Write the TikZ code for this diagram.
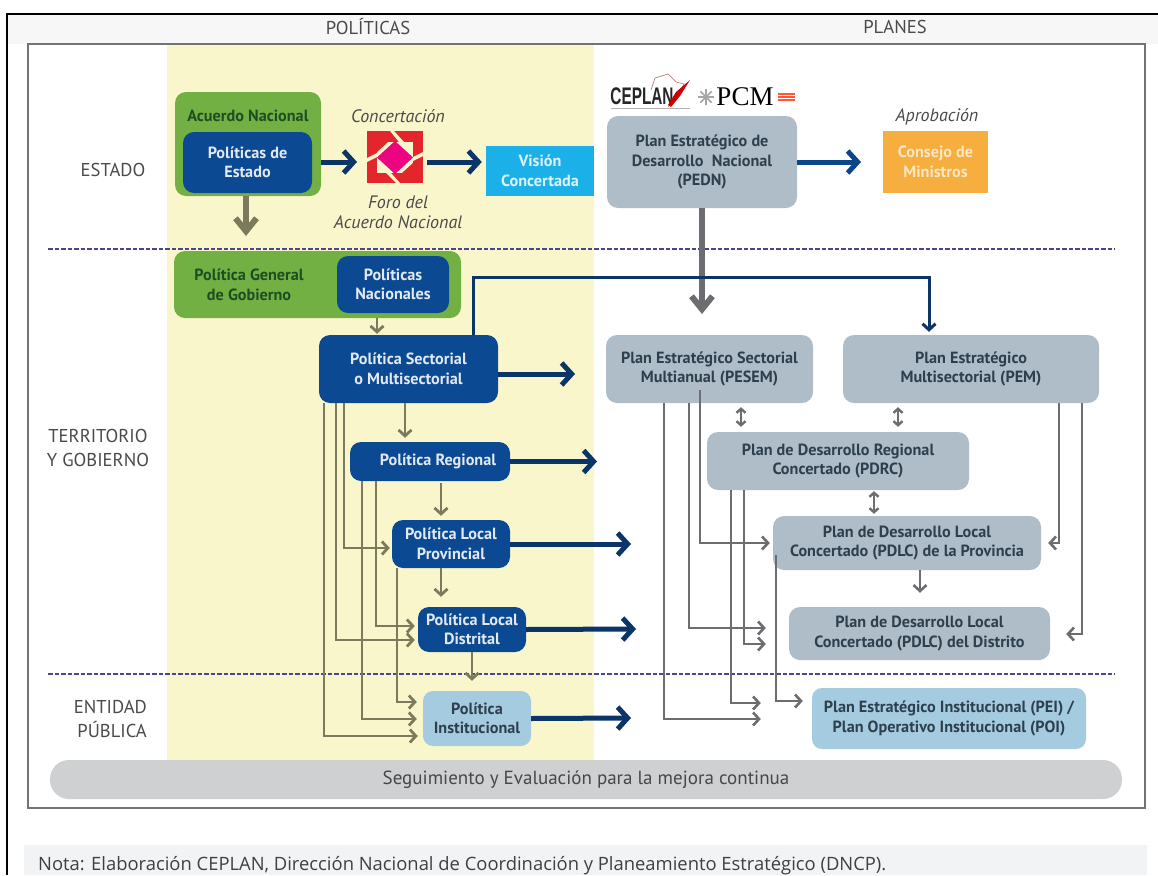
\documentclass[tikz,border=0pt]{standalone}
\usepackage{fontspec}
\setmainfont{PT Sans}
\newfontfamily\notefont{Open Sans}
\newfontfamily\serifl{Liberation Serif}
\newfontfamily\logofont{Liberation Sans}
\usetikzlibrary{arrows.meta}
\definecolor{cgreen}{HTML}{72B043}
\definecolor{cdkgreen}{HTML}{1E4D22}
\definecolor{cnavy}{HTML}{0B4A92}
\definecolor{carrow}{HTML}{0B3468}
\definecolor{cgraybox}{HTML}{AEBDC8}
\definecolor{cltblue}{HTML}{A5CBE0}
\definecolor{colive}{HTML}{7C7A5C}
\definecolor{cgrayline}{HTML}{6C6D70}
\definecolor{cyellow}{HTML}{FAF6CC}
\definecolor{ccyan}{HTML}{1CB0E8}
\definecolor{corange}{HTML}{F6AE3F}
\definecolor{cbar}{HTML}{CFD0D2}
\definecolor{cnote}{HTML}{F2F3F5}
\definecolor{ctext}{HTML}{2E3F4E}
\definecolor{chead}{HTML}{4A4A4A}
\definecolor{cdash}{HTML}{4A4590}
\definecolor{cforo}{HTML}{E3262B}
\tikzset{
  x=1pt,y=-1pt,
  base/.style={align=center,inner sep=0pt,font=\fontsize{16.2}{19.5}\selectfont\bfseries},
  greenbox/.style={base,fill=cgreen,rounded corners=11pt,text=cdkgreen},
  navybox/.style={base,fill=cnavy,rounded corners=11pt,text=white!88!cnavy},
  graybox/.style={base,fill=cgraybox,rounded corners=11pt,text=ctext},
  ltbox/.style={base,fill=cltblue,rounded corners=10pt,text=ctext},
  cyanbox/.style={base,fill=ccyan,text=white!85!ccyan},
  orangebox/.style={base,fill=corange,text=white!70!corange},
  barbox/.style={fill=cbar,rounded corners=19pt,inner sep=0pt,text=black!72,font=\fontsize{19}{22}\selectfont},
  head/.style={inner sep=0pt,text=chead,align=center,font=\fontsize{18.6}{23.5}\selectfont},
  ital/.style={inner sep=0pt,text=chead,align=center,font=\fontsize{18}{20}\selectfont\itshape},
  tagtext/.style={base},
  bigblue/.style={line width=5pt,draw=carrow,-{Straight Barb[length=10pt,width=22pt]}},
  bigblueb/.style={line width=5pt,draw=cnavy!80!carrow,-{Straight Barb[length=10pt,width=22pt]}},
  biggray/.style={line width=6pt,draw=#1,-{Straight Barb[length=13pt,width=21pt]}},
  thinblue/.style={line width=3pt,draw=carrow,-{Straight Barb[length=6pt,width=13pt]}},
  oliveln/.style={line width=2.8pt,draw=colive,-{Straight Barb[length=6pt,width=13pt]}},
  grayln/.style={line width=2.6pt,draw=cgrayline,-{Straight Barb[length=6pt,width=13pt]}},
  grayboth/.style={line width=2.4pt,draw=cgrayline,{Straight Barb[length=4pt,width=9pt]}-{Straight Barb[length=4pt,width=9pt]}},
  divider/.style={line width=1.4pt,draw=cdash,dash pattern=on 4.5pt off 2pt},
}
\newcommand{\bx}[7]{%
  \pgfmathsetmacro{\bxcx}{(#3+#5)/2}\pgfmathsetmacro{\bxcy}{(#4+#6)/2}%
  \pgfmathsetmacro{\bxw}{#5-#3}\pgfmathsetmacro{\bxh}{#6-#4}%
  \node[#2,minimum width=\bxw pt,minimum height=\bxh pt] (#1) at (\bxcx,\bxcy) {#7};}
\begin{document}
\begin{tikzpicture}
\useasboundingbox (0,0) rectangle (1158,875);
\fill[white] (0,0) rectangle (1158,875);
% outer frame
\fill[black!3] (8,15) rectangle (1158,44);
\draw[line width=2.4pt,black] (7,875) -- (7,14) -- (1158,14);
% note bar
\fill[cnote] (24,845) rectangle (1147,875);
% inner frame and yellow column
\fill[cyellow] (167,45) rectangle (594,760);
\draw[line width=1.4pt,black!55] (28,44) rectangle (1145,808);
% headers
\node[head] (hpol) at (368,27) {POLÍTICAS};
\node[head] (hpla) at (895,27) {PLANES};
\node[head] (hest) at (113,170) {ESTADO};
\node[head,align=center] (hter) at (98,448) {TERRITORIO\\Y GOBIERNO};
\node[head,align=right,anchor=east] (hent) at (147,719) {ENTIDAD\\PÚBLICA};
% dividers
\coordinate (d1a) at (48,249); \coordinate (d1b) at (1115,249);
\coordinate (d2a) at (48,674); \coordinate (d2b) at (1115,674);
\draw[divider] (d1a) -- (d1b);
\draw[divider] (d2a) -- (d2b);
% boxes
\bx{an}{greenbox}{175}{92}{321}{196}{}
\node[tagtext,text=cdkgreen] (antxt) at (248,116) {Acuerdo Nacional};
\bx{pe}{navybox}{183}{132}{312}{193}{Políticas de\\Estado}
\bx{vc}{cyanbox}{486}{146}{594}{196}{Visión\\Concertada}
\bx{pgg}{greenbox}{174}{251}{461}{318}{}
\node[tagtext,text=cdkgreen] (pggtxt) at (249,285) {Política General\\de Gobierno};
\bx{pn}{navybox}{337}{256}{449}{313}{Políticas\\Nacionales}
\bx{ps}{navybox}{319}{335}{498}{403}{Política Sectorial\\o Multisectorial}
\bx{pr}{navybox}{350}{442}{510}{481}{\hspace*{16pt}Política Regional}
\bx{plp}{navybox}{392}{520}{510}{568}{Política Local\\Provincial}
\bx{pld}{navybox}{418}{607}{526}{652}{Política Local\\Distrital}
\bx{pi}{ltbox}{423}{691}{531}{746}{Política\\Institucional}
\bx{pedn}{graybox}{607}{116}{797}{208}{Plan Estratégico de\\Desarrollo\ \ Nacional\\(PEDN)}
\bx{cm}{orangebox}{883}{131}{988}{193}{Consejo de\\Ministros}
\bx{pesem}{graybox}{606}{335}{813}{403}{Plan Estratégico Sectorial\\Multianual (PESEM)}
\bx{pem}{graybox}{843}{335}{1099}{403}{Plan Estratégico\\Multisectorial (PEM)}
\bx{pdrc}{graybox}{707}{432}{969}{490}{Plan de Desarrollo Regional\\Concertado (PDRC)}
\bx{pdlcp}{graybox}{773}{516}{1041}{570}{Plan de Desarrollo Local\\Concertado (PDLC) de la Provincia}
\bx{pdlcd}{graybox}{789}{607}{1050}{660}{Plan de Desarrollo Local\\Concertado (PDLC) del Distrito}
\bx{pei}{ltbox}{812}{688}{1086}{749}{Plan Estratégico Institucional (PEI) /\\Plan Operativo Institucional (POI)}
\bx{seg}{barbox}{50}{760}{1122}{799}{Seguimiento y Evaluación para la mejora continua}
% italic labels
\node[ital] (conc) at (398,116) {Concertación};
\node[ital] (foro) at (398,212) {Foro del\\Acuerdo Nacional};
\node[ital] (apro) at (937,117) {Aprobación};
% forum logo
\fill[cforo] (367,131) rectangle (423,183);
\fill[cyellow] (377,142) rectangle (413,173);
\fill[cforo] (377,142) -- (388,142) -- (377,152) -- cycle;
\fill[cforo] (413,173) -- (402,173) -- (413,163) -- cycle;
\fill[cyellow] (390,131) -- (394,131) -- (404,142) -- (399,142) -- cycle;
\fill[cyellow] (423,152) -- (423,156) -- (413,161) -- (413,157) -- cycle;
\fill[cyellow] (400,183) -- (396,183) -- (386,173) -- (391,173) -- cycle;
\fill[cyellow] (367,162) -- (367,158) -- (377,153) -- (377,157) -- cycle;
\fill[magenta!90!red] (377,157.5) -- (395,141) -- (413,157.5) -- (395,174) -- cycle;
\coordinate (foroL) at (367,162); \coordinate (foroR) at (423,162);
% logos
\draw[line width=.7pt,red!45!black!50] (651,90) -- (655,78) -- (668,74) -- (676,82) -- (684,84) -- (678,96) -- (668,107);
\node[xscale=.64,inner sep=0pt,font=\fontsize{24}{24}\selectfont\logofont\bfseries,text=black!85] (cep) at (642,96) {CEPLAN};
\fill[red!80!black] (668,105) -- (676,92) -- (690,80) -- (680,96) -- (671,107) -- cycle;
\draw[line width=.7pt,black!30] (611,108) -- (690,108);
\foreach \a in {0,45,...,135}{\draw[line width=1.6pt,black!35,rotate around={\a:(706,97)}] (698,97) -- (714,97);}
\node[inner sep=0pt,font=\fontsize{27}{27}\selectfont\serifl,text=black] (pcm) at (745,97) {PCM};
\foreach \yy in {94,97,100}{\draw[line width=1.6pt,red!65!orange!80] (778,\yy) -- (795,\yy);}
% big arrows
\draw[biggray=colive] (an.south -| 246,0) -- (246,236);
\draw[bigblue] (an.east |- foroL) -- ([xshift=-10pt]foroL);
\draw[bigblue] ([xshift=4pt]foroR) -- ([xshift=-4pt]vc.west |- foroR);
\draw[bigblueb] (pedn.east |- foroL) -- (861,162);
\draw[biggray=cgrayline] (pedn.south -| 702,0) -- (702,314);
\draw[oliveln] (pgg.south -| 377,0) -- ([yshift=1pt]ps.north -| 377,0);
\draw[thinblue] (ps.north -| 473,0) |- (700,277) -| ([yshift=3pt]pem.north -| 929,0);
\draw[bigblue] (ps.east |- 0,374) -- (575,374);
\draw[bigblue] (pr.east) -- (597,461.5);
\draw[bigblue] (plp.east) -- (631,544);
\draw[bigblue] (pld.east) -- (636,629);
\draw[bigblue] (pi.east) -- (631,718);
% olive connectors
\draw[oliveln,shorten >=4pt] (ps.south -| 405,0) -- (pr.north -| 405,0);
\draw[oliveln,shorten >=4pt] ([yshift=-2pt]pr.south -| 441,0) -- (plp.north -| 441,0);
\draw[oliveln,shorten >=10pt] (plp.south -| 441,0) -- (pld.north -| 441,0);
\draw[oliveln,shorten >=10pt] (pld.south -| 472,0) -- (pi.north -| 472,0);
\draw[oliveln,shorten >=5pt] (ps.south -| 324,0) |- (pi.west |- 0,736);
\draw[oliveln,shorten >=3pt] (ps.south -| 336,0) |- (pld.west |- 0,640);
\draw[oliveln,shorten >=2pt] (ps.south -| 344,0) |- (plp.west |- 0,548);
\draw[oliveln,shorten >=6pt] (pr.south -| 362,0) |- (pi.west |- 0,719);
\draw[oliveln,shorten >=3pt] (pr.south -| 376,0) |- (pld.west |- 0,626);
\draw[oliveln,shorten >=6pt] (plp.south -| 397,0) |- (pi.west |- 0,702);
% gray connectors
\draw[grayln,shorten >=51pt] (pesem.south -| 664,0) |- (pei.west |- 0,719);
\draw[grayln,shorten >=23pt] (pesem.south -| 689,0) |- (pdlcd.west |- 0,628);
\draw[grayln,shorten >=3pt] (700,390) |- (pdlcp.west |- 0,543);
\draw[grayln,shorten >=51pt] (pdrc.south -| 731,0) |- (pei.west |- 0,703);
\draw[grayln,shorten >=23pt] (pdrc.south -| 744,0) |- (pdlcd.west |- 0,644);
\draw[grayln,shorten >=9pt] (776,555) |- (pei.west |- 0,701);
\draw[grayln,shorten >=7pt] (pem.south -| 1059,0) |- (pdlcp.east |- 0,543);
\draw[grayln,shorten >=16pt] (pem.south -| 1082,0) |- (pdlcd.east |- 0,634);
\draw[grayln,shorten >=14pt] (pdlcp.south -| 920,0) -- (pdlcd.north -| 920,0);
\draw[grayboth,shorten <=4pt,shorten >=5pt] (pesem.south -| 741,0) -- (pdrc.north -| 741,0);
\draw[grayboth,shorten <=4pt,shorten >=5pt] (pem.south -| 898,0) -- (pdrc.north -| 898,0);
\draw[grayboth,shorten <=1pt,shorten >=2pt] (pdrc.south -| 874,0) -- (pdlcp.north -| 874,0);
% note
\node[anchor=west,inner sep=0pt,text=black!75,font=\fontsize{18.4}{20}\selectfont\notefont] (nota) at (38,866) {Nota: Elaboración CEPLAN, Dirección Nacional de Coordinación y Planeamiento Estratégico (DNCP).};
\end{tikzpicture}
\end{document}
